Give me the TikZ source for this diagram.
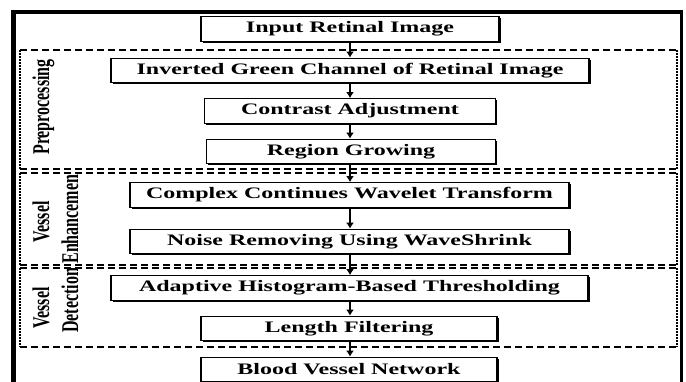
\documentclass[tikz,border=0pt]{standalone}
\usepackage{fontspec}
\usepackage{graphicx}
\setmainfont{Liberation Serif}
\usetikzlibrary{arrows.meta,shadows}
\tikzset{
  stepbox/.style={draw=black, line width=1.3pt, fill=white, inner sep=0pt,
    minimum height=24.5pt, font=\fontsize{16}{18}\selectfont\bfseries,
    drop shadow={opacity=1, fill=black, shadow xshift=1.6pt, shadow yshift=-1.6pt}},
  arr/.style={line width=1.4pt, -{Latex[length=6pt,width=8pt]}},
  hdash/.style={line width=1.3pt, dash pattern=on 7pt off 4pt},
  vdot/.style={line width=1.6pt, dash pattern=on 2pt off 1pt},
  lab/.style={rotate=90, anchor=base, inner sep=0pt, font=\fontsize{16}{18}\selectfont\bfseries},
  frame/.style={line width=4pt, line cap=butt}
}
\newcommand{\wide}[1]{\scalebox{1.5}[1]{#1}}
\newcommand{\tall}[1]{\scalebox{1}[1.5]{#1}}
\begin{document}
\begin{tikzpicture}[x=1pt,y=-1pt]
\useasboundingbox (0,0) rectangle (686,381);
\clip (0,0) rectangle (686,381);
% outer frame
\draw[line width=5pt] (13.5,400) -- (13.5,10);
\draw[line width=4pt] (11,12) -- (683,12);
\draw[line width=3pt] (681.5,10) -- (681.5,400);
% group frames
\draw[hdash] (20,50) -- (677,50);
\draw[hdash] (20,169) -- (677,169);
\draw[vdot] (20,50) -- (20,169);
\draw[vdot] (677,50) -- (677,169);
\draw[hdash] (20,173) -- (677,173);
\draw[hdash] (20,265) -- (677,265);
\draw[vdot] (20,173) -- (20,265);
\draw[vdot] (677,173) -- (677,265);
\draw[hdash] (20,268) -- (677,268);
\draw[hdash] (20,347) -- (677,347);
\draw[vdot] (20,268) -- (20,347);
\draw[vdot] (677,268) -- (677,347);
% boxes
\node[stepbox, minimum width=298pt] (b1) at (350,29) {\wide{Input Retinal Image}};
\node[stepbox, minimum width=478pt] (b2) at (350,70.5) {\wide{Inverted Green Channel of Retinal Image}};
\node[stepbox, minimum width=291pt] (b3) at (350,111) {\wide{Contrast Adjustment}};
\node[stepbox, minimum width=289pt] (b4) at (351,151.5) {\wide{Region Growing}};
\node[stepbox, minimum width=439pt] (b5) at (349.5,195) {\wide{Complex Continues Wavelet Transform}};
\node[stepbox, minimum width=439pt] (b6) at (349.5,241.5) {\wide{Noise Removing Using WaveShrink}};
\node[stepbox, minimum width=477pt] (b7) at (349.5,288) {\wide{Adaptive Histogram-Based Thresholding}};
\node[stepbox, minimum width=296pt] (b8) at (349,328.5) {\wide{Length Filtering}};
\node[stepbox, minimum width=296pt] (b9) at (349,369.5) {\wide{Blood Vessel Network}};
% arrows
\draw[arr] (b1.south -| 350,0) -- (b2.north -| 350,0);
\draw[arr] (b2.south -| 350,0) -- (b3.north -| 350,0);
\draw[arr] (b3.south -| 350,0) -- (b4.north -| 350,0);
\draw[arr] (b4.south -| 350,0) -- (b5.north -| 350,0);
\draw[arr] (b5.south -| 350,0) -- (b6.north -| 350,0);
\draw[arr] (b6.south -| 350,0) -- (b7.north -| 350,0);
\draw[arr] (b7.south -| 350,0) -- (b8.north -| 350,0);
\draw[arr] (b8.south -| 350,0) -- (b9.north -| 350,0);
% labels
\node[lab] (l1) at (49,107) {\tall{Preprocessing}};
\node[lab] (l2) at (49,222) {\tall{Vessel}};
\begin{scope}
\clip (0,173) rectangle (686,381);
\node[lab] (l3) at (78,216.5) {\tall{Enhancement}};
\end{scope}
\node[lab] (l4) at (49,308) {\tall{Vessel}};
\node[lab] (l5) at (78,300.5) {\tall{Detection}};
\end{tikzpicture}
\end{document}
